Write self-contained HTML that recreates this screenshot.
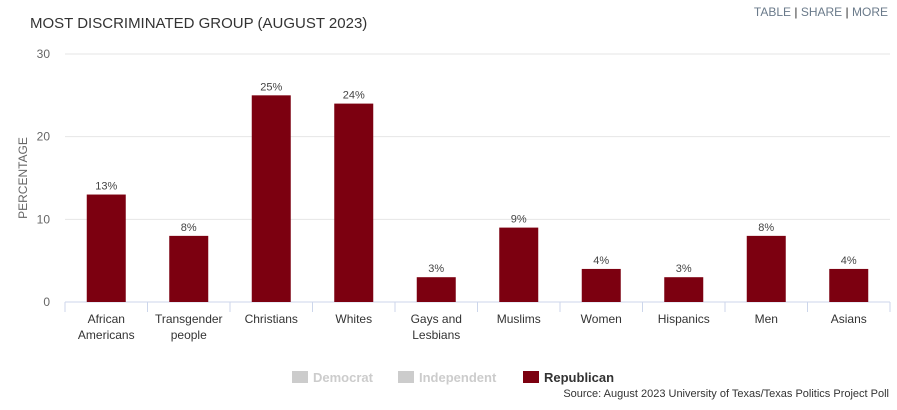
<!DOCTYPE html>
<html><head><meta charset="utf-8"><style>
body{margin:0;width:897px;height:410px;background:#fff;font-family:"Liberation Sans",sans-serif;overflow:hidden;position:relative}
.t{position:absolute;white-space:nowrap}
</style></head><body>
<div class="t" style="left:30px;top:15px;font-size:15px;color:#333">MOST DISCRIMINATED GROUP (AUGUST 2023)</div>
<div class="t" style="right:9px;top:5px;font-size:12px;color:#6a7a8a">
<span>TABLE</span> <span style="color:#333">|</span> <span>SHARE</span> <span style="color:#333">|</span> <span>MORE</span></div>
<svg id="c" width="897" height="410" style="position:absolute;left:0;top:0"></svg>
<div class="t" style="right:8px;top:388px;font-size:11px;color:#333">Source: August 2023 University of Texas/Texas Politics Project Poll</div>
<script>
const categories=[["African","Americans"],["Transgender","people"],["Christians"],["Whites"],["Gays and","Lesbians"],["Muslims"],["Women"],["Hispanics"],["Men"],["Asians"]];
const republican=[13,8,25,24,3,9,4,3,8,4];
const yTicks=[0,10,20,30];
const svg=document.getElementById('c');
const NS='http://www.w3.org/2000/svg';
const x0=65,x1=890,y0=302,y1=54,yMax=30;
const band=(x1-x0)/categories.length;
const ys=v=>y0-(v/yMax)*(y0-y1);
const xc=i=>x0+band*(i+0.5);
function mk(t,a,txt){const e=document.createElementNS(NS,t);for(const k in a)e.setAttribute(k,a[k]);if(txt!=null)e.textContent=txt;svg.appendChild(e);return e;}
yTicks.forEach(v=>{
 const g=mk('line',{x1:x0,x2:x1,y1:ys(v),y2:ys(v),stroke:v?'#e6e6e6':'#ccd6eb'});
 
 
 const l=mk('text',{x:50,y:ys(v)+4,'text-anchor':'end','font-size':12,fill:'#666'},v);
 
 
});
const yt=mk('text',{x:27,y:178,'text-anchor':'middle','font-size':12,fill:'#666',transform:'rotate(-90 27 178)'},'PERCENTAGE');


for(let i=0;i<=categories.length;i++){
 const t=mk('line',{x1:x0+band*i,x2:x0+band*i,y1:y0,y2:y0+10,stroke:'#ccd6eb'});
 
 
}
categories.forEach((c,i)=>{
 const v=republican[i],bw=39;
 const r=mk('rect',{x:xc(i)-bw/2,y:ys(v),width:bw,height:y0-ys(v),fill:'#7c0010'});
 
 
 const lb=mk('text',{x:xc(i),y:ys(v)-5,'text-anchor':'middle','font-size':11,fill:'#444'},v+'%');
 
 
 c.forEach((s,j)=>{
  const t=mk('text',{x:xc(i),y:323+j*16,'text-anchor':'middle','font-size':12,fill:'#333'},s);
  
  
 });
});
const leg=[['Democrat','#ccc','#ccc',292],['Independent','#ccc','#ccc',398],['Republican','#7c0010','#333',523]];
leg.forEach(([n,c,tc,x])=>{
 const r=mk('rect',{x:x,y:371,width:16,height:12,fill:c});
 
 
 const t=mk('text',{x:x+21,y:382,'font-size':13,'font-weight':'bold',fill:tc},n);
 
 
});
</script>
</body></html>
